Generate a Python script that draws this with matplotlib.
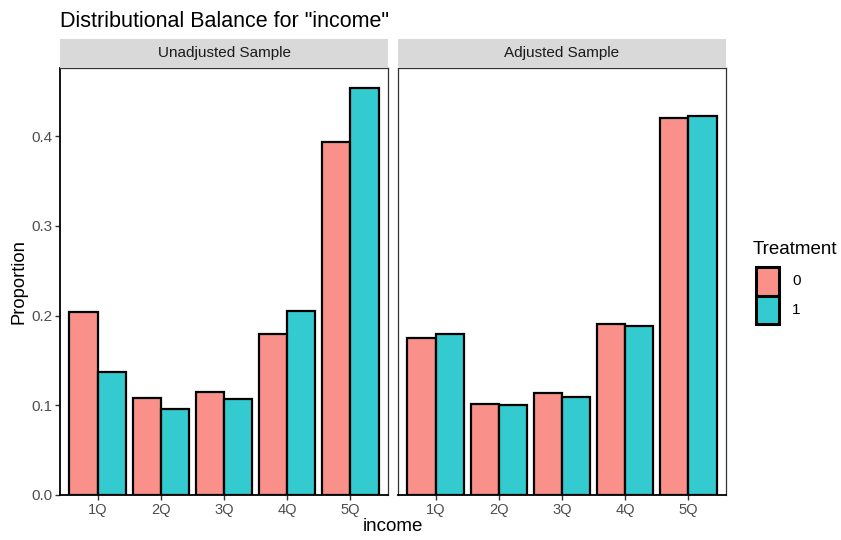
import numpy as np
import matplotlib
matplotlib.use("Agg")
import matplotlib.pyplot as plt
from matplotlib.patches import Rectangle

plt.rcParams['font.family'] = ['Liberation Sans', 'DejaVu Sans']

categories = ['1Q', '2Q', '3Q', '4Q', '5Q']
panels = ['Unadjusted Sample', 'Adjusted Sample']
treatments = ['0', '1']
unadj_0 = [0.204, 0.108, 0.115, 0.179, 0.393]
unadj_1 = [0.137, 0.096, 0.107, 0.205, 0.454]
adj_0 = [0.175, 0.101, 0.114, 0.191, 0.420]
adj_1 = [0.179, 0.100, 0.109, 0.188, 0.422]
y_ticks = [0.0, 0.1, 0.2, 0.3, 0.4]

colors = [(0.973, 0.463, 0.427, 0.8), (0.0, 0.749, 0.769, 0.8)]
tick_color = '#4D4D4D'

fig = plt.figure(figsize=(8.41, 5.4), dpi=100)
W, H = 841, 540

def fx(px):
    return px / W

def fy(py):
    return 1 - py / H

panel_box = [(60, 388), (398, 726)]
top, bottom, strip_top = 68, 495, 39
data = [(unadj_0, unadj_1), (adj_0, adj_1)]
x = np.arange(1, len(categories) + 1)
bw = 0.45

for i, (l, r) in enumerate(panel_box):
    ax = fig.add_axes([fx(l), fy(bottom), fx(r - l), (bottom - top) / H])
    for j, vals in enumerate(data[i]):
        ax.bar(x + (j - 0.5) * bw, vals, width=bw, color=colors[j],
               edgecolor='black', linewidth=1.6, zorder=2)
    ax.set_xlim(0.4, 5.6)
    ax.set_ylim(0, 0.476)
    ax.set_xticks(x)
    ax.set_xticklabels(categories, color=tick_color, fontsize=10.5)
    for s in ax.spines.values():
        s.set_color('#333333')
        s.set_linewidth(0.9)
    ax.spines['bottom'].set_color('black')
    ax.spines['bottom'].set_linewidth(1.3)
    ax.tick_params(axis='x', length=3.5, width=1.0, color='#333333', pad=2)
    if i == 0:
        ax.set_yticks(y_ticks)
        ax.set_yticklabels([f'{t:.1f}' for t in y_ticks], color=tick_color, fontsize=11)
        ax.tick_params(axis='y', length=3.5, width=1.0, color='#333333', pad=2)
        ax.spines['left'].set_color('black')
        ax.spines['left'].set_linewidth(1.3)
        ax.set_ylabel('Proportion', fontsize=13.2, labelpad=3)
    else:
        ax.set_yticks([])
    # strip
    sax = fig.add_axes([fx(l), fy(top), fx(r - l), (top - strip_top) / H])
    sax.set_xticks([])
    sax.set_yticks([])
    sax.set_facecolor('#D9D9D9')
    for s in sax.spines.values():
        s.set_visible(False)
    sax.text(0.5, 0.5, panels[i], ha='center', va='center', fontsize=11,
             color='#1A1A1A', transform=sax.transAxes)

fig.text(fx(393), fy(535), 'income', ha='center', va='bottom', fontsize=13.5)
fig.text(fx(60), fy(27), 'Distributional Balance for "income"', ha='left',
         va='baseline', fontsize=15.5)

# legend
fig.text(fx(753), fy(254), 'Treatment', ha='left', va='baseline', fontsize=13.5)
for j, t in enumerate(treatments):
    ky = 267 + j * 28.5
    fig.patches.append(Rectangle((fx(756), fy(ky + 28.5)), fx(23), 28.5 / H,
                                 transform=fig.transFigure, facecolor=colors[j],
                                 edgecolor='black', linewidth=2.2))
    fig.text(fx(792), fy(ky + 14), t, ha='left', va='center', fontsize=11)

fig.savefig('out.png', dpi=100)
